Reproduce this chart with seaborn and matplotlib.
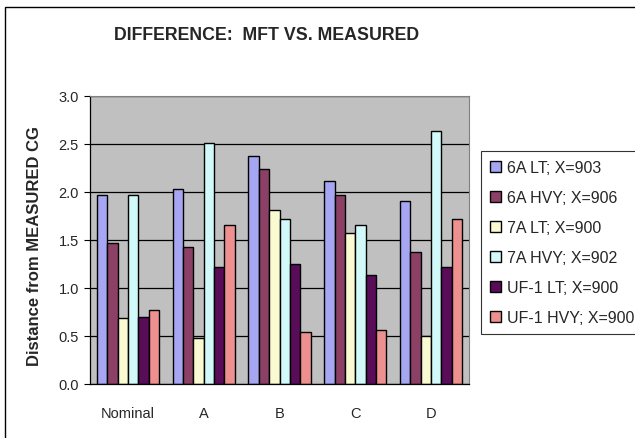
import numpy as np
import pandas as pd
import matplotlib
matplotlib.use('Agg')
import matplotlib.pyplot as plt
from matplotlib.patches import Rectangle
import seaborn as sns

categories = ['Nominal', 'A', 'B', 'C', 'D']
series = ['6A LT; X=903', '6A HVY; X=906', '7A LT; X=900',
          '7A HVY; X=902', 'UF-1 LT; X=900', 'UF-1 HVY; X=900']
lt_6a = [1.97, 2.03, 2.37, 2.11, 1.90]
hvy_6a = [1.47, 1.42, 2.24, 1.97, 1.37]
lt_7a = [0.68, 0.47, 1.81, 1.57, 0.50]
hvy_7a = [1.97, 2.51, 1.72, 1.65, 2.63]
lt_uf1 = [0.69, 1.22, 1.25, 1.13, 1.22]
hvy_uf1 = [0.77, 1.65, 0.54, 0.56, 1.72]
colors = ['#9999FF', '#993366', '#FFFFCC', '#CCFFFF', '#660066', '#FF8080']

values = [lt_6a, hvy_6a, lt_7a, hvy_7a, lt_uf1, hvy_uf1]
rows = []
for name, vals in zip(series, values):
    for cat, v in zip(categories, vals):
        rows.append({'cat': cat, 'series': name, 'val': v})
df = pd.DataFrame(rows)

sns.set_style('white')
plt.rcParams['font.family'] = ['Liberation Sans', 'DejaVu Sans']

fig = plt.figure(figsize=(6.35, 4.39), dpi=100)
ax = fig.add_axes([90 / 635, 1 - 384.5 / 439, 379 / 635, 287.5 / 439])
ax.set_facecolor('#C0C0C0')

sns.barplot(data=df, x='cat', y='val', hue='series', palette=colors,
            order=categories, hue_order=series, width=0.82,
            edgecolor='black', linewidth=1.0, ax=ax, legend=True)

ax.set_ylim(0, 3.0)
ax.set_xlim(-0.5, 4.5)
ax.set_yticks(np.arange(0, 3.01, 0.5))
ax.set_yticklabels([f'{v:.1f}' for v in np.arange(0, 3.01, 0.5)], fontsize=10.5)
ax.yaxis.grid(True, color='black', linewidth=0.9)
ax.set_axisbelow(True)
ax.set_xticks(range(5))
ax.set_xticklabels(categories, fontsize=10.5)
ax.set_xticks(np.arange(-0.5, 4.6, 1), minor=True)
ax.tick_params(axis='x', which='major', length=0, pad=16)
ax.tick_params(axis='x', which='minor', length=4, width=0.8, color='black')
ax.tick_params(axis='y', length=4, width=0.8, color='black', left=True, pad=4)
ax.set_xlabel('')
ax.set_ylabel('')
for s in ['top', 'right']:
    ax.spines[s].set_color('#808080')
    ax.spines[s].set_linewidth(0.8)
for s in ['left', 'bottom']:
    ax.spines[s].set_color('black')
    ax.spines[s].set_linewidth(0.9)

handles, labels = ax.get_legend_handles_labels()
ax.get_legend().remove()
leg = fig.legend(handles, labels, loc='upper left',
                 bbox_to_anchor=(481 / 635, 1 - 152 / 439),
                 fontsize=11.5, frameon=True, fancybox=False,
                 handlelength=0.7, handleheight=0.7, handletextpad=0.4,
                 labelspacing=0.94, borderpad=0.55, borderaxespad=0)
leg.get_frame().set_edgecolor('black')
leg.get_frame().set_linewidth(0.8)

fig.text(267 / 635, 1 - 36 / 439, 'DIFFERENCE:  MFT VS. MEASURED',
         ha='center', va='center', fontsize=12.8, fontweight='bold')
fig.text(35 / 635, 1 - 246 / 439, 'Distance from MEASURED CG',
         ha='center', va='center', rotation=90, fontsize=12,
         fontweight='bold')

fig.patches.append(Rectangle((5 / 635, -0.02), 1.05, 1.02 - 8 / 439,
                             transform=fig.transFigure, fill=False,
                             edgecolor='black', linewidth=1.0))

fig.savefig('out.png', dpi=100)
